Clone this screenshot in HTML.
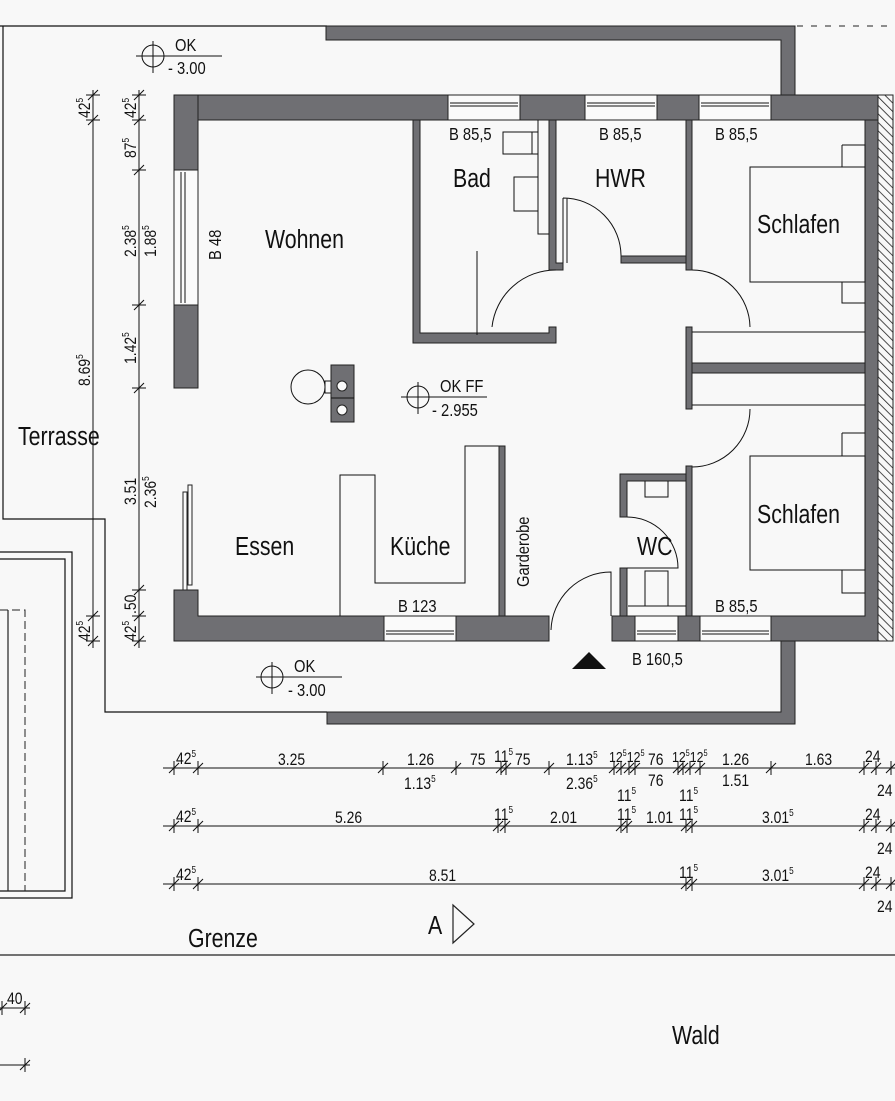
<!DOCTYPE html>
<html><head><meta charset="utf-8"><style>
html,body{margin:0;padding:0;background:#f8f8f8}
svg{display:block}
text{font-family:"Liberation Sans Narrow","Liberation Sans",sans-serif;fill:#111;transform-box:fill-box;transform-origin:0 0;transform:scaleX(.82)}
.w{fill:#6f6f73;stroke:#222;stroke-width:1}
.l{stroke:#111;stroke-width:1.2;fill:none}
.t{stroke:#111;stroke-width:1;fill:none}
.win{fill:#fafafa;stroke:#222;stroke-width:1}
</style></head><body>
<svg width="895" height="1101" viewBox="0 0 895 1101" xmlns="http://www.w3.org/2000/svg">
<defs>
<pattern id="h" width="6" height="6" patternUnits="userSpaceOnUse" patternTransform="rotate(-45)"><rect width="6" height="6" fill="#f8f8f8"/><line x1="0" y1="0" x2="0" y2="6" stroke="#222" stroke-width="1.6"/></pattern>
</defs>
<rect width="895" height="1101" fill="#f8f8f8"/>
<path class="l" d="M0 26 H327 M3 26 V519 H105 V712 H327"/>
<path d="M797 26 H895" stroke="#222" stroke-width="1" stroke-dasharray="6,8"/>
<path class="w" d="M326 26 H795 V95 H781 V40 H326 Z"/>
<path class="w" d="M327 712 H781 V641 H795 V724 H327 Z"/>
<path class="l" d="M0 552 H72 V898 H0 M0 559 H65 V891 H0"/>
<path d="M0 610 H25 V891" stroke="#222" stroke-width="1" fill="none" stroke-dasharray="8,4"/>
<line x1="8" y1="610" x2="8" y2="891" stroke="#222" stroke-width="1.2"/>
<line x1="0" y1="955" x2="895" y2="955" stroke="#222" stroke-width="1.3"/>

<rect x="878" y="95" width="15" height="546" fill="url(#h)" stroke="#222"/>
<path class="w" d="M174 95 H878 V641 H771 V616 H865 V120 H771 V95 Z"/>
<rect class="w" x="174" y="95" width="274" height="25"/>
<rect class="w" x="520" y="95" width="65" height="25"/>
<rect class="w" x="657" y="95" width="42" height="25"/>
<rect class="w" x="771" y="95" width="107" height="25"/>
<rect class="win" x="448" y="95" width="72" height="25"/><path class="t" d="M450 103 H518 M450 106 H518"/>
<rect class="win" x="585" y="95" width="72" height="25"/><path class="t" d="M587 103 H655 M587 106 H655"/>
<rect class="win" x="699" y="95" width="72" height="25"/><path class="t" d="M701 103 H769 M701 106 H769"/>
<rect class="w" x="174" y="95" width="24" height="75"/>
<rect class="win" x="174" y="170" width="24" height="135"/><path class="t" d="M181 172 V303 M185 172 V303"/>
<rect class="w" x="174" y="305" width="24" height="83"/>
<path class="w" d="M174 590 H198 V616 H384 V641 H174 Z"/>
<rect class="win" x="183" y="492" width="4" height="98"/><rect class="win" x="188" y="485" width="4" height="100"/>
<rect class="win" x="384" y="616" width="72" height="25"/><path class="t" d="M386 631 H454 M386 634 H454"/>
<rect class="w" x="456" y="616" width="93" height="25"/>
<rect class="w" x="612" y="616" width="23" height="25"/>
<rect class="win" x="635" y="616" width="43" height="25"/><path class="t" d="M637 631 H676 M637 634 H676"/>
<rect class="w" x="678" y="616" width="22" height="25"/>
<rect class="win" x="700" y="616" width="71" height="25"/><path class="t" d="M702 631 H769 M702 634 H769"/>
<path class="t" d="M551 630 A60 60 0 0 1 611 572 V616"/>
<polygon points="572,669 606,669 589,652" fill="#111"/>
<path class="w" d="M413 120 H420 V333 H549 V327 H556 V343 H413 Z"/>
<path class="w" d="M549 120 H556 V263 H563 V270 H549 Z"/>
<path class="t" d="M492 327 A64 64 0 0 1 556 270"/>
<path class="t" d="M538 120 V234 H549 M503 132 H532 V154 H503 Z M532 132 H538 M532 154 H538 M514 177 H538 V211 H514 Z M477 251 V335"/>
<path class="t" d="M563 198 V263 M567 198 V263 M563 198 A58 58 0 0 1 621 256"/>
<rect class="w" x="621" y="256" width="65" height="7"/>
<rect class="w" x="686" y="120" width="6" height="150"/>
<path class="t" d="M692 270 A58 58 0 0 1 750 327"/>
<rect class="w" x="686" y="327" width="6" height="82"/>
<rect class="w" x="692" y="363" width="173" height="10"/>
<path class="t" d="M692 332 H865 M692 405 H865"/>
<path class="t" d="M750 409 A58 58 0 0 1 692 467"/>
<rect class="w" x="686" y="466" width="6" height="150"/>
<path class="t" d="M750 167 H865 V282 H750 Z M842 145 H865 V167 M842 145 V167 M842 282 V303 H865"/>
<path class="t" d="M750 456 H865 V570 H750 Z M842 433 H865 M842 433 V456 M842 570 V593 H865"/>
<path class="w" d="M620 474 H686 V481 H627 V517 H620 Z"/>
<rect class="w" x="620" y="568" width="7" height="48"/>
<path class="t" d="M627 517 A51 51 0 0 1 678 568 H627"/>
<path class="t" d="M645 481 V497 H668 V481 M645 606 V571 H668 V606 M628 606 H686"/>
<path class="t" d="M340 616 V475 H375 V583 H465 V446 H499"/>
<rect class="w" x="499" y="446" width="6" height="170"/>
<ellipse class="t" cx="308" cy="387" rx="17" ry="17" fill="#f8f8f8"/>
<rect class="t" x="325" y="381" width="6" height="12"/>
<rect class="w" x="331" y="365" width="23" height="57"/>
<path class="t" d="M331 398 H354"/>
<circle cx="342" cy="386" r="5" fill="#fafafa" stroke="#222"/>
<circle cx="342" cy="410" r="5" fill="#fafafa" stroke="#222"/>
<g class="t"><circle cx="153" cy="56" r="11"/><path d="M153 41 V73 M136 56 H222"/></g>
<text x="175" y="51" font-size="18">OK</text><text x="168" y="74" font-size="18">- 3.00</text>
<g class="t"><circle cx="418" cy="397" r="11"/><path d="M418 382 V414 M401 397 H487"/></g>
<text x="440" y="392" font-size="18">OK FF</text><text x="432" y="416" font-size="18">- 2.955</text>
<g class="t"><circle cx="272" cy="677" r="11"/><path d="M272 662 V694 M256 677 H342"/></g>
<text x="294" y="672" font-size="18">OK</text><text x="288" y="696" font-size="18">- 3.00</text>

<g font-size="26">
<text x="265" y="248">Wohnen</text>
<text x="453" y="187">Bad</text>
<text x="595" y="187">HWR</text>
<text x="757" y="233">Schlafen</text>
<text x="757" y="523">Schlafen</text>
<text x="235" y="555">Essen</text>
<text x="390" y="555">Küche</text>
<text x="637" y="555">WC</text>
<text x="18" y="445">Terrasse</text>
<text x="188" y="947">Grenze</text>
<text x="672" y="1044">Wald</text>
<text x="428" y="934">A</text>
</g>
<polygon points="453,905 453,943 474,924" fill="none" stroke="#222" stroke-width="1.2"/>
<g font-size="18">
<text x="449" y="140">B 85,5</text><text x="599" y="140">B 85,5</text><text x="715" y="140">B 85,5</text>
<text x="715" y="612">B 85,5</text><text x="398" y="612">B 123</text><text x="632" y="665">B 160,5</text>
<g transform="translate(221,260) rotate(-90)"><text x="0" y="0">B 48</text></g>
<g transform="translate(529,587) rotate(-90)"><text x="0" y="0">Garderobe</text></g>
</g>

<g class="t">
<path d="M93 90 V648 M139 90 V648"/>
<path d="M86 95 H100 M88 100 L98 90 M86 120 H100 M88 125 L98 115 M86 616 H100 M88 621 L98 611 M86 641 H100 M88 646 L98 636"/>
<path d="M132 95 H146 M134 100 L144 90 M132 120 H146 M134 125 L144 115 M132 170 H146 M134 175 L144 165 M132 305 H146 M134 310 L144 300 M132 388 H146 M134 393 L144 383 M132 590 H146 M134 595 L144 585 M132 616 H146 M134 621 L144 611 M132 641 H146 M134 646 L144 636"/>
</g>
<g font-size="17">
<g transform="translate(90,118) rotate(-90)"><text>42<tspan font-size="10" dy="-7">5</tspan></text></g>
<g transform="translate(136,118) rotate(-90)"><text>42<tspan font-size="10" dy="-7">5</tspan></text></g>
<g transform="translate(136,158) rotate(-90)"><text>87<tspan font-size="10" dy="-7">5</tspan></text></g>
<g transform="translate(136,257) rotate(-90)"><text>2.38<tspan font-size="10" dy="-7">5</tspan></text></g>
<g transform="translate(156,257) rotate(-90)"><text>1.88<tspan font-size="10" dy="-7">5</tspan></text></g>
<g transform="translate(136,364) rotate(-90)"><text>1.42<tspan font-size="10" dy="-7">5</tspan></text></g>
<g transform="translate(90,386) rotate(-90)"><text>8.69<tspan font-size="10" dy="-7">5</tspan></text></g>
<g transform="translate(136,505) rotate(-90)"><text>3.51</text></g>
<g transform="translate(156,508) rotate(-90)"><text>2.36<tspan font-size="10" dy="-7">5</tspan></text></g>
<g transform="translate(136,614) rotate(-90)"><text>.50</text></g>
<g transform="translate(90,641) rotate(-90)"><text>42<tspan font-size="10" dy="-7">5</tspan></text></g>
<g transform="translate(136,641) rotate(-90)"><text>42<tspan font-size="10" dy="-7">5</tspan></text></g>
</g>

<g class="t">
<path d="M163 768 H895 M163 826 H895 M163 884 H895"/>
<path d="M174 761 V775 M169 773 L179 763 M198 761 V775 M193 773 L203 763 M383 761 V775 M378 773 L388 763 M456 761 V775 M451 773 L461 763 M501 761 V775 M496 773 L506 763 M506 761 V775 M501 773 L511 763 M549 761 V775 M544 773 L554 763 M614 761 V775 M609 773 L619 763 M621 761 V775 M616 773 L626 763 M629 761 V775 M624 773 L634 763 M635 761 V775 M630 773 L640 763 M678 761 V775 M673 773 L683 763 M683 761 V775 M678 773 L688 763 M690 761 V775 M685 773 L695 763 M700 761 V775 M695 773 L705 763 M771 761 V775 M766 773 L776 763 M864 761 V775 M859 773 L869 763 M876 761 V775 M871 773 L881 763 M891 761 V775 M886 773 L896 763"/>
<path d="M174 819 V833 M169 831 L179 821 M198 819 V833 M193 831 L203 821 M498 819 V833 M493 831 L503 821 M505 819 V833 M500 831 L510 821 M621 819 V833 M616 831 L626 821 M627 819 V833 M622 831 L632 821 M686 819 V833 M681 831 L691 821 M692 819 V833 M687 831 L697 821 M864 819 V833 M859 831 L869 821 M876 819 V833 M871 831 L881 821 M891 819 V833 M886 831 L896 821"/>
<path d="M174 877 V891 M169 889 L179 879 M198 877 V891 M193 889 L203 879 M686 877 V891 M681 889 L691 879 M692 877 V891 M687 889 L697 879 M864 877 V891 M859 889 L869 879 M876 877 V891 M871 889 L881 879 M891 877 V891 M886 889 L896 879"/>
<path d="M0 1008 H30 M2 1001 V1015 M-3 1013 L7 1003 M25 1001 V1015 M20 1013 L30 1003 M0 1065 H30 M25 1058 V1072 M20 1070 L30 1060"/>
</g>
<g font-size="17">
<text x="176" y="764">42<tspan font-size="10" dy="-7">5</tspan></text>
<text x="278" y="765">3.25</text>
<text x="407" y="765">1.26</text><text x="404" y="789">1.13<tspan font-size="10" dy="-7">5</tspan></text>
<text x="470" y="765">75</text><text x="494" y="762">11<tspan font-size="10" dy="-7">5</tspan></text><text x="515" y="765">75</text>
<text x="566" y="765">1.13<tspan font-size="10" dy="-7">5</tspan></text><text x="566" y="789">2.36<tspan font-size="10" dy="-7">5</tspan></text>
<text x="609" y="762" font-size="15">12<tspan font-size="9" dy="-6">5</tspan><tspan dy="6">12</tspan><tspan font-size="9" dy="-6">5</tspan></text>
<text x="648" y="765">76</text><text x="648" y="786">76</text>
<text x="617" y="801">11<tspan font-size="10" dy="-7">5</tspan></text>
<text x="672" y="762" font-size="15">12<tspan font-size="9" dy="-6">5</tspan><tspan dy="6">12</tspan><tspan font-size="9" dy="-6">5</tspan></text>
<text x="679" y="801">11<tspan font-size="10" dy="-7">5</tspan></text>
<text x="722" y="765">1.26</text><text x="722" y="786">1.51</text>
<text x="805" y="765">1.63</text>
<text x="865" y="762">24</text><text x="877" y="796">24</text>
<text x="176" y="822">42<tspan font-size="10" dy="-7">5</tspan></text>
<text x="335" y="823">5.26</text>
<text x="494" y="820">11<tspan font-size="10" dy="-7">5</tspan></text>
<text x="550" y="823">2.01</text>
<text x="617" y="820">11<tspan font-size="10" dy="-7">5</tspan></text>
<text x="646" y="823">1.01</text>
<text x="679" y="820">11<tspan font-size="10" dy="-7">5</tspan></text>
<text x="762" y="823">3.01<tspan font-size="10" dy="-7">5</tspan></text>
<text x="865" y="820">24</text><text x="877" y="854">24</text>
<text x="176" y="880">42<tspan font-size="10" dy="-7">5</tspan></text>
<text x="429" y="881">8.51</text>
<text x="679" y="878">11<tspan font-size="10" dy="-7">5</tspan></text>
<text x="762" y="881">3.01<tspan font-size="10" dy="-7">5</tspan></text>
<text x="865" y="878">24</text><text x="877" y="912">24</text>
<text x="7" y="1004">40</text>
</g>
</svg>
</body></html>
